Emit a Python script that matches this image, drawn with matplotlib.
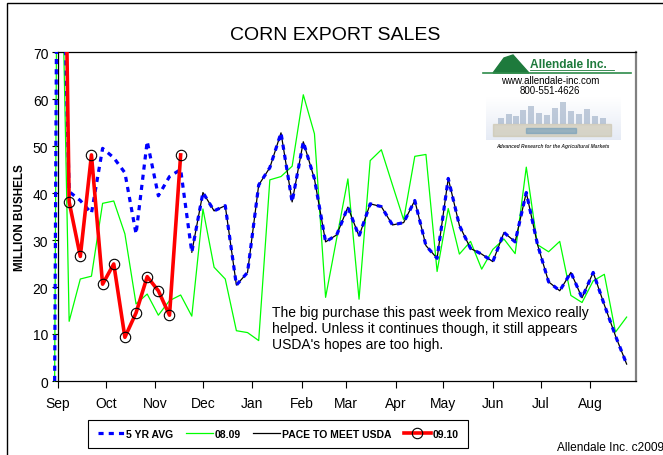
import matplotlib
matplotlib.use("Agg")
import matplotlib.pyplot as plt
import matplotlib.patches as mpatches
import numpy as np

plt.rcParams['font.family'] = ['Liberation Sans', 'DejaVu Sans']

# week index from Sep 1 (first entry is the lead-in point just before Sep)
weeks = [-0.3] + list(range(52))

avg5 = [0, 136, 40.3, 38.4, 35.7, 49.5, 47.5, 44.3, 31.3, 51, 39.4, 43.5, 45,
        27.4, 40.1, 36.2, 37.3, 20.4, 23.1, 41.7, 45.4, 52.8, 38.1,
        50.9, 43, 29.6, 31.1, 37, 30.8, 37.7, 37.1, 33.2, 33.7,
        38.4, 28.8, 26.1, 43.1, 33.1, 28.2, 27, 25.4, 31.6, 29.6,
        40.1, 29.1, 21.1, 19.2, 23.1, 17.7, 23.1, 16.2, 9.6, 3.6]

sales_0809 = [0, 133, 12.7, 21.7, 22.3, 37.8, 38.3, 31.3, 16.4, 18.5, 14, 17.1, 18.3,
              13.8, 36.6, 24.2, 21.7, 10.7, 10.3, 8.6, 42.8, 43.5, 45.7,
              60.9, 52.6, 17.8, 30.4, 43, 17.4, 46.9, 49.2, 41.7, 34.3,
              47.8, 48.2, 23.3, 36.7, 27, 29.7, 23.8, 28, 30.2, 27.1,
              45.5, 29, 27.5, 29.7, 18.2, 16.7, 21.3, 22.7, 10.4, 13.6]

nan = np.nan
pace_usda = [nan] * 13 + [27.4, 40.1, 36.2, 37.3, 20.4, 23.1, 41.7, 45.4, 52.8, 38.1,
                          50.9, 43, 29.6, 31.1, 37, 30.8, 37.7, 37.1, 33.2, 33.7,
                          38.4, 28.8, 26.1, 43.1, 33.1, 28.2, 27, 25.4, 31.6, 29.6,
                          40.1, 29.1, 21.1, 19.2, 23.1, 17.7, 23.1, 16.2, 9.6, 3.6]

sales_0910 = [nan, 200, 38.1, 26.5, 48.1, 20.6, 24.9, 9.3, 14.5, 22.2, 19.2, 14.0, 48.1] + [nan] * 40

months = ['Sep', 'Oct', 'Nov', 'Dec', 'Jan', 'Feb', 'Mar', 'Apr', 'May', 'Jun', 'Jul', 'Aug']
month_days = [0, 30, 61, 91, 122, 153, 181, 212, 242, 273, 303, 334]
month_pos = [d / 7 for d in month_days]

note = ("The big purchase this past week from Mexico really\n"
        "helped. Unless it continues though, it still appears\n"
        "USDA's hopes are too high.")

W, H = 663, 456
fig = plt.figure(figsize=(W / 100, H / 100), dpi=100)
ax = fig.add_axes([58 / W, 1 - 382 / H, (636 - 58) / W, (382 - 53) / H])

l_avg, = ax.plot(weeks, avg5, color='#0000ff', lw=2.3, dashes=(1.6, 1.6), zorder=4, label='5 YR AVG')
l_08, = ax.plot(weeks, sales_0809, color='#00ff00', lw=0.9, zorder=2, label='08.09')
l_pace, = ax.plot(weeks, pace_usda, color='black', lw=0.9, zorder=3, label='PACE TO MEET USDA')
l_09, = ax.plot(weeks, sales_0910, color='#ff0000', lw=2.6, marker='o', ms=7.5,
                mfc='none', mec='black', mew=0.8, zorder=5, label='09.10')

# lines may spill left of the y axis but stop at the top of the plot
for ln in (l_avg, l_08, l_pace, l_09):
    clip = mpatches.Rectangle((-1, -5), 60, 75, transform=ax.transData)
    ln.set_clip_path(clip)

ax.set_xlim(0, 51.84)
ax.set_ylim(0, 70)
ax.set_yticks(range(0, 71, 10))
ax.set_xticks(month_pos)
ax.set_xticklabels(months)
ax.tick_params(axis='x', direction='out', length=5, width=0.8, pad=6, labelsize=10)
ax.tick_params(axis='y', direction='out', length=4, width=0.8, pad=3, labelsize=10)

for s in ('left', 'bottom', 'top'):
    ax.spines[s].set_color('black')
    ax.spines[s].set_linewidth(0.9)
ax.spines['right'].set_color('#808080')
ax.spines['right'].set_linewidth(1.6)

fig.text(335 / W, 1 - 35 / H, 'CORN EXPORT SALES', fontsize=14, ha='center', va='center')
fig.text(20 / W, 1 - 218 / H, 'MILLION BUSHELS', fontsize=8.4, fontweight='bold',
         rotation=90, ha='center', va='center')
fig.text(272 / W, 1 - 306 / H, note, fontsize=10, ha='left', va='top', linespacing=1.2)
fig.text(557 / W, 1 - 448 / H, 'Allendale Inc. c2009', fontsize=8.6, ha='left', va='center')

leg = ax.legend(handles=[l_avg, l_08, l_pace, l_09], loc='center', ncol=4,
                bbox_to_anchor=(278 / W, 1 - 435 / H), bbox_transform=fig.transFigure,
                prop={'weight': 'bold', 'size': 7.5}, frameon=True, fancybox=False,
                edgecolor='black', framealpha=1, handlelength=2.6, handletextpad=0.15,
                columnspacing=1.2, numpoints=1, borderpad=0.9)
leg.get_frame().set_linewidth(0.8)

# company logo block (top right of the plot)
lg = fig.add_axes([471 / W, 1 - 160 / H, 165 / W, 107 / H])
lg.set_xlim(0, 165)
lg.set_ylim(107, 0)
lg.axis('off')
grad = np.linspace(0, 1, 60).reshape(-1, 1)
lg.imshow(np.dstack([0.8 + 0.2 * grad, 0.84 + 0.16 * grad, 0.92 + 0.08 * grad]) * np.ones((1, 40, 1)),
          extent=(15, 150, 45, 88), aspect='auto', alpha=0.5, zorder=0)
skyline_x = [30, 38, 45, 52, 60, 68, 76, 84, 92, 100, 108, 116, 124, 132]
skyline_h = [6, 10, 8, 14, 18, 11, 9, 16, 22, 13, 10, 15, 8, 6]
lg.bar(skyline_x, skyline_h, width=6, bottom=[72 - h for h in skyline_h],
       color='#8fa3bd', alpha=0.55, zorder=1)
lg.add_patch(mpatches.Rectangle((22, 72), 118, 12, color='#c9c2a8', alpha=0.6, zorder=1))
lg.add_patch(mpatches.Rectangle((55, 76), 50, 5, color='#6f9bb8', alpha=0.6, zorder=1))
lg.add_patch(mpatches.Polygon([(22, 21), (33, 6), (42, 3), (58, 21)], closed=True,
                              color='#1e7a3c', zorder=2))
lg.plot([12, 160], [21, 21], color='#2e8b4a', lw=1.2, zorder=2)
lg.text(59, 12, 'Allendale Inc.', color='#1e7a3c', fontsize=8.6, fontweight='bold',
        ha='left', va='center')
lg.plot([59, 143], [18, 18], color='#1e7a3c', lw=0.6)
lg.text(79, 28.5, 'www.allendale-inc.com', fontsize=7, ha='center', va='center')
lg.text(79, 38.5, '800-551-4626', fontsize=7, ha='center', va='center')
lg.text(82, 94, 'Advanced Research for the Agricultural Markets', fontsize=3.6,
        fontweight='bold', style='italic', ha='center', va='center', color='#333333')

# outer chart border
fig.add_artist(mpatches.Rectangle((7 / W, -0.1), 1.2, 1.1 - 4 / H, transform=fig.transFigure,
                                  fill=False, edgecolor='black', lw=1.0))

fig.savefig('out.png', dpi=100)
